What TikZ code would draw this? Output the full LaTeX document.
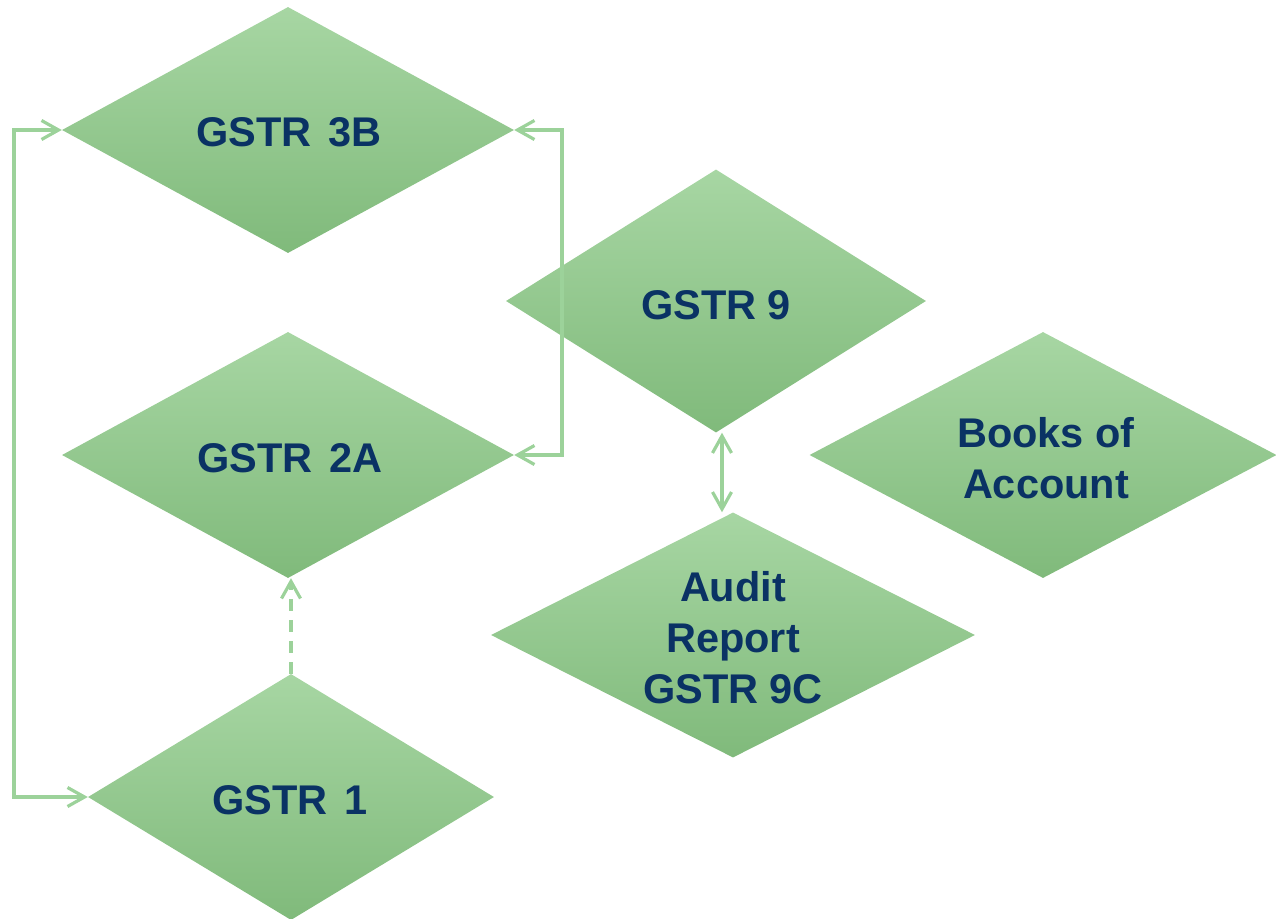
\documentclass[tikz,border=0pt]{standalone}
\usepackage{fontspec}
\setmainfont{Liberation Sans}
\usetikzlibrary{shapes.geometric,arrows.meta}
\definecolor{dtop}{RGB}{167,214,163}
\definecolor{dbot}{RGB}{128,186,123}
\definecolor{navy}{RGB}{10,50,100}
\definecolor{conn}{RGB}{156,210,154}
\tikzset{
  dia/.style={shape=diamond, inner sep=0pt, top color=dtop, bottom color=dbot, draw=none},
  dtext/.style={text=navy, align=center, font=\fontsize{41.5}{51}\selectfont\bfseries, inner sep=0pt},
  conline/.style={draw=conn, line width=3.2pt},
  barb/.tip={Straight Barb[length=17pt,width=19pt,line width=3.2pt]}
}
\begin{document}
\begin{tikzpicture}[x=1pt,y=-1pt]
\useasboundingbox (0,0) rectangle (1276,918);
\node[dia, minimum width=452pt, minimum height=246pt] (g3b) at (288,130) {};
\node[dia, minimum width=452pt, minimum height=246pt] (g2a) at (288,455) {};
\node[dia, minimum width=406pt, minimum height=246pt] (g1) at (291,797) {};
\node[dia, minimum width=420pt, minimum height=263pt] (g9) at (716,301) {};
\node[dia, minimum width=467pt, minimum height=246pt] (boa) at (1043,455) {};
\node[dia, minimum width=484pt, minimum height=245pt] (aud) at (733,635) {};
\node[dtext] (t3b) at (289,132) {GSTR\hspace{0.4em}3B};
\node[dtext] (t2a) at (290,458) {GSTR\hspace{0.4em}2A};
\node[dtext] (t1) at (290,800) {GSTR\hspace{0.4em}1};
\node[dtext] (t9) at (716,305) {GSTR 9};
\node[dtext] (tboa) at (1046,458) {Books of\\Account};
\node[dtext] (taud) at (733,638) {Audit\\Report\\GSTR 9C};
\coordinate (lx) at (14,0);
\coordinate (rx) at (562,0);
\coordinate (vx) at (722,0);
\draw[conline, {barb}-{barb}] (g1.west) -- (lx |- g1.west) -- (lx |- g3b.west) -- (g3b.west);
\draw[conline, {barb}-{barb}] (g3b.east) -- (rx |- g3b.east) -- (rx |- g2a.east) -- (g2a.east);
\draw[conline, dash pattern=on 12pt off 9pt, -{barb}] (g1.north) -- (g1.north |- g2a.south);
\draw[conline, {barb}-{barb}] (vx |- g9.south) -- (vx |- aud.north);
\end{tikzpicture}
\end{document}
